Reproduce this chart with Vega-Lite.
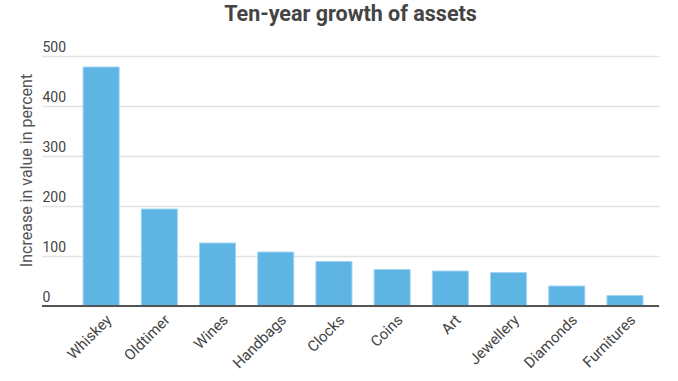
{
  "$schema": "https://vega.github.io/schema/vega-lite/v6.json",
  "autosize": "none",
  "width": 617,
  "height": 250,
  "padding": {"left": 42, "top": 56, "right": 19, "bottom": 75},
  "background": "white",
  "title": {
    "text": "Ten-year growth of assets",
    "font": "Roboto",
    "fontSize": 21.5,
    "fontWeight": "bold",
    "color": "#444444",
    "anchor": "middle",
    "offset": 15
  },
  "config": {
    "view": {"stroke": null},
    "font": "Roboto"
  },
  "data": {
    "values": [
      {"asset": "Whiskey", "value": 478},
      {"asset": "Oldtimer", "value": 194},
      {"asset": "Wines", "value": 126},
      {"asset": "Handbags", "value": 108},
      {"asset": "Clocks", "value": 89},
      {"asset": "Coins", "value": 73},
      {"asset": "Art", "value": 70},
      {"asset": "Jewellery", "value": 67},
      {"asset": "Diamonds", "value": 40},
      {"asset": "Furnitures", "value": 21}
    ]
  },
  "layer": [
    {
      "mark": {"type": "bar", "color": "#5EB5E4", "stroke": "#a3d5f1", "strokeWidth": 1},
      "encoding": {
        "x": {
          "field": "asset",
          "type": "nominal",
          "sort": null,
          "scale": {"paddingInner": 0.38, "paddingOuter": 0.49, "align": 0.72},
          "axis": {
            "title": null,
            "labelAngle": -45,
            "labelFont": "Roboto",
            "labelFontSize": 15,
            "labelColor": "#444444",
            "ticks": false,
            "domain": false,
            "labelPadding": 6,
            "labelOffset": 3
          }
        },
        "y": {
          "field": "value",
          "type": "quantitative",
          "scale": {"domain": [0, 500], "nice": false},
          "axis": {
            "title": "Increase in value in percent",
            "titleFont": "Roboto",
            "titleFontSize": 16,
            "titleFontWeight": "normal",
            "titleColor": "#555555",
            "titleAngle": 270,
            "titleAlign": "center",
            "titleBaseline": "middle",
            "titleX": -16,
            "titleY": 114,
            "values": [0, 100, 200, 300, 400, 500],
            "labelAlign": "left",
            "labelBaseline": "alphabetic",
            "labelOffset": -5,
            "labelPadding": 0,
            "labelFont": "Roboto",
            "labelFontSize": 14,
            "labelColor": "#444444",
            "ticks": false,
            "tickSize": 0,
            "domain": false,
            "grid": true,
            "gridColor": "#e3e3e3",
            "gridWidth": 1.5
          }
        }
      }
    },
    {
      "mark": {"type": "rule", "color": "#555555", "strokeWidth": 2},
      "encoding": {"y": {"datum": 0}}
    }
  ]
}
